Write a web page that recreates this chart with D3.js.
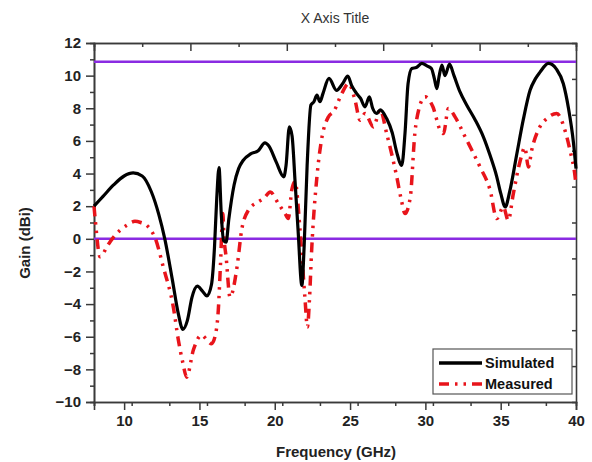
<!DOCTYPE html>
<html>
<head>
<meta charset="utf-8">
<script src="https://cdn.jsdelivr.net/npm/d3@7"></script>
<style>
  body { margin: 0; background: #fff; }
  text { font-family: "Liberation Sans", Arial, sans-serif; }
</style>
</head>
<body>
<div id="chart"></div>
<script>
// simulated gain
var simFreq = [8.0, 8.6, 9.3, 10.0, 10.6, 11.2, 11.8, 12.3, 12.7, 13.2, 13.6, 13.9, 14.2, 14.5, 14.86, 15.2, 15.5, 15.8, 16.0, 16.15, 16.3, 16.45, 16.6, 16.77, 16.95, 17.3, 17.6, 17.9, 18.4, 18.9, 19.35, 19.6, 20.1, 20.6, 20.75, 20.97, 21.15, 21.35, 21.55, 21.8, 21.95, 22.15, 22.4, 22.6, 22.8, 23.0, 23.2, 23.6, 24.1, 24.5, 24.85, 25.1, 25.44, 25.7, 25.99, 26.28, 26.5, 26.77, 27.0, 27.43, 27.8, 28.1, 28.43, 28.65, 28.85, 29.1, 29.4, 29.76, 30.1, 30.4, 30.6, 30.76, 30.9, 31.1, 31.3, 31.6, 31.9, 32.3, 32.75, 33.3, 33.85, 34.3, 34.74, 35.0, 35.3, 35.6, 36.07, 36.5, 36.95, 37.3, 37.6, 38.17, 38.7, 39.16, 39.5, 39.83, 40.0];
var simGain = [2.0, 2.6, 3.3, 3.85, 4.04, 3.85, 2.9, 1.5, 0.0, -2.5, -4.6, -5.55, -5.0, -3.6, -2.9, -3.2, -3.5, -2.8, -0.5, 2.5, 4.37, 1.5, -0.1, -0.2, 1.2, 3.3, 4.3, 4.8, 5.2, 5.4, 5.88, 5.7, 4.7, 3.8, 4.5, 6.86, 6.3, 3.5, 0.5, -2.85, -0.5, 4.5, 8.2, 8.4, 8.8, 8.4, 8.9, 9.83, 9.1, 9.5, 9.97, 9.4, 8.9, 8.6, 8.09, 8.7, 8.0, 7.68, 7.9, 7.37, 6.5, 5.3, 4.5, 6.5, 9.5, 10.44, 10.5, 10.75, 10.6, 10.44, 9.8, 9.2, 9.9, 10.64, 10.0, 10.7, 10.0, 9.0, 8.19, 7.3, 6.25, 5.1, 3.8, 2.8, 1.95, 2.9, 5.2, 7.3, 9.1, 9.8, 10.2, 10.75, 10.4, 9.5, 8.0, 5.9, 4.3];

// measured gain
var measFreq = [8.0, 8.1, 8.4, 8.95, 9.3, 9.73, 10.2, 10.72, 11.1, 11.5, 11.8, 12.05, 12.6, 13.27, 13.6, 13.9, 14.15, 14.6, 15.15, 15.5, 15.8, 16.1, 16.25, 16.4, 16.55, 16.63, 16.77, 17.03, 17.5, 17.8, 18.25, 18.9, 19.3, 19.7, 20.24, 20.68, 20.9, 21.13, 21.35, 21.68, 22.0, 22.17, 22.3, 22.45, 22.8, 23.1, 23.56, 23.9, 24.45, 24.9, 25.33, 25.66, 26.0, 26.55, 27.0, 27.43, 28.1, 28.4, 28.65, 29.0, 29.3, 29.55, 29.98, 30.5, 30.98, 31.2, 31.53, 31.97, 32.64, 33.63, 34.3, 34.74, 35.18, 35.5, 35.84, 36.3, 36.6, 36.84, 37.06, 37.6, 38.1, 38.72, 39.3, 39.6, 39.94, 40.0];
var measGain = [2.0, 1.0, -1.1, -0.34, 0.1, 0.52, 0.85, 1.07, 1.0, 0.83, 0.5, 0.07, -1.73, -4.2, -6.2, -7.6, -8.48, -6.8, -5.9, -6.2, -6.43, -5.7, -4.4, -1.5, 1.55, 0.1, -1.1, -3.57, -1.7, 0.52, 1.75, 2.26, 2.5, 2.87, 2.16, 1.55, 1.24, 3.0, 3.5, 0.52, -3.57, -5.4, -3.8, -0.7, 3.8, 6.04, 7.47, 7.78, 8.9, 9.52, 8.5, 7.27, 7.68, 6.86, 7.9, 6.45, 3.8, 2.4, 1.55, 2.56, 6.45, 7.88, 8.7, 8.09, 6.66, 6.45, 7.99, 7.47, 6.25, 4.4, 2.98, 1.24, 1.95, 1.13, 2.77, 4.8, 5.6, 4.4, 5.43, 6.86, 7.4, 7.68, 6.55, 5.43, 3.8, 3.3];

// reference lines
var refLines = [0, 10.85];

var xTicks = [10, 15, 20, 25, 30, 35, 40];
var yTicks = [-10, -8, -6, -4, -2, 0, 2, 4, 6, 8, 10, 12];
var seriesNames = ['Simulated', 'Measured'];

var W = 592, H = 462;
var margin = { top: 43, right: 16, bottom: 60, left: 94 };
var width = W - margin.left - margin.right;
var height = 402 - margin.top;

var svg = d3.select('#chart')
  .append('svg')
  .attr('width', W)
  .attr('height', H);

var g = svg.append('g')
  .attr('transform', 'translate(' + margin.left + ',' + margin.top + ')');

var xScale = d3.scaleLinear().domain([8, 40]).range([0, width]);
var yScale = d3.scaleLinear().domain([-10, 12]).range([height, 0]);
// unlabelled top/right frame scales
var xTop = d3.scaleLinear().domain([0, 5]).range([0, width]);
var yRight = d3.scaleLinear().domain([0, 10]).range([height, 0]);

var axisColor = '#3a3a3a';
var dashMeas = '10,6,2.5,6,2.5,6';

function styleAxis(sel) {
  sel.selectAll('.domain').attr('stroke', axisColor).attr('stroke-width', 1.6);
  sel.selectAll('line').attr('stroke', axisColor).attr('stroke-width', 1.5);
  sel.selectAll('text')
    .attr('fill', '#222')
    .style('font-size', '15px')
    .style('font-weight', 'bold');
}

// minor ticks
g.append('g')
  .attr('transform', 'translate(0,' + height + ')')
  .call(d3.axisBottom(xScale).tickValues(d3.range(8, 40.01, 2.5)).tickSize(4).tickFormat(''))
  .call(styleAxis);
g.append('g')
  .call(d3.axisLeft(yScale).tickValues(d3.range(-9, 12, 2)).tickSize(4).tickFormat(''))
  .call(styleAxis);
g.append('g')
  .call(d3.axisTop(xTop).tickValues(d3.range(0.5, 5, 1)).tickSize(-4).tickFormat(''))
  .call(styleAxis);

// major ticks
g.append('g')
  .attr('transform', 'translate(0,' + height + ')')
  .call(d3.axisBottom(xScale).tickValues(xTicks).tickSize(8).tickPadding(5))
  .call(styleAxis);
g.append('g')
  .call(d3.axisLeft(yScale).tickValues(yTicks).tickSize(8).tickPadding(5))
  .call(styleAxis);
g.append('g')
  .call(d3.axisTop(xTop).tickValues([1, 2, 3, 4]).tickSize(-8).tickFormat(''))
  .call(styleAxis);
g.append('g')
  .attr('transform', 'translate(' + width + ',0)')
  .call(d3.axisRight(yRight).tickValues(d3.range(1, 10)).tickSize(-4).tickFormat(''))
  .call(styleAxis);

// reference lines
g.append('g')
  .selectAll('line')
  .data(refLines)
  .enter()
  .append('line')
  .attr('x1', 0)
  .attr('x2', width)
  .attr('y1', function (d) { return yScale(d); })
  .attr('y2', function (d) { return yScale(d); })
  .attr('stroke', '#8a2be2')
  .attr('stroke-width', 2.5);

var line = d3.line()
  .x(function (d) { return xScale(d[0]); })
  .y(function (d) { return yScale(d[1]); })
  .curve(d3.curveMonotoneX);

var meas = d3.zip(measFreq, measGain);
var sim = d3.zip(simFreq, simGain);

g.append('path')
  .attr('d', line(meas))
  .attr('fill', 'none')
  .attr('stroke', '#e8141b')
  .attr('stroke-width', 3.5)
  .attr('stroke-dasharray', dashMeas);

g.append('path')
  .attr('d', line(sim))
  .attr('fill', 'none')
  .attr('stroke', '#000')
  .attr('stroke-width', 3.2)
  .attr('stroke-linejoin', 'round');

// legend
var legend = svg.append('g').attr('transform', 'translate(433,349)');
legend.append('rect')
  .attr('width', 139)
  .attr('height', 45)
  .attr('fill', '#fff')
  .attr('stroke', '#555')
  .attr('stroke-width', 1.2);
var legendStyle = [
  { color: '#000', dash: null },
  { color: '#e8141b', dash: dashMeas }
];
seriesNames.forEach(function (name, i) {
  var y = 14 + i * 21;
  legend.append('line')
    .attr('x1', 6).attr('x2', 49)
    .attr('y1', y).attr('y2', y)
    .attr('stroke', legendStyle[i].color)
    .attr('stroke-width', 3.5)
    .attr('stroke-dasharray', legendStyle[i].dash);
  legend.append('text')
    .attr('x', 52)
    .attr('y', y + 5)
    .style('font-size', '14.5px')
    .style('font-weight', 'bold')
    .attr('fill', '#111')
    .text(name);
});

// titles
svg.append('text')
  .attr('x', 335).attr('y', 23)
  .attr('text-anchor', 'middle')
  .style('font-size', '14px')
  .attr('fill', '#333')
  .text('X Axis Title');

svg.append('text')
  .attr('x', 336).attr('y', 457)
  .attr('text-anchor', 'middle')
  .style('font-size', '15px')
  .style('font-weight', 'bold')
  .attr('fill', '#222')
  .text('Frequency (GHz)');

svg.append('text')
  .attr('transform', 'translate(30,243) rotate(-90)')
  .attr('text-anchor', 'middle')
  .style('font-size', '15px')
  .style('font-weight', 'bold')
  .attr('fill', '#222')
  .text('Gain (dBi)');
</script>
</body>
</html>
